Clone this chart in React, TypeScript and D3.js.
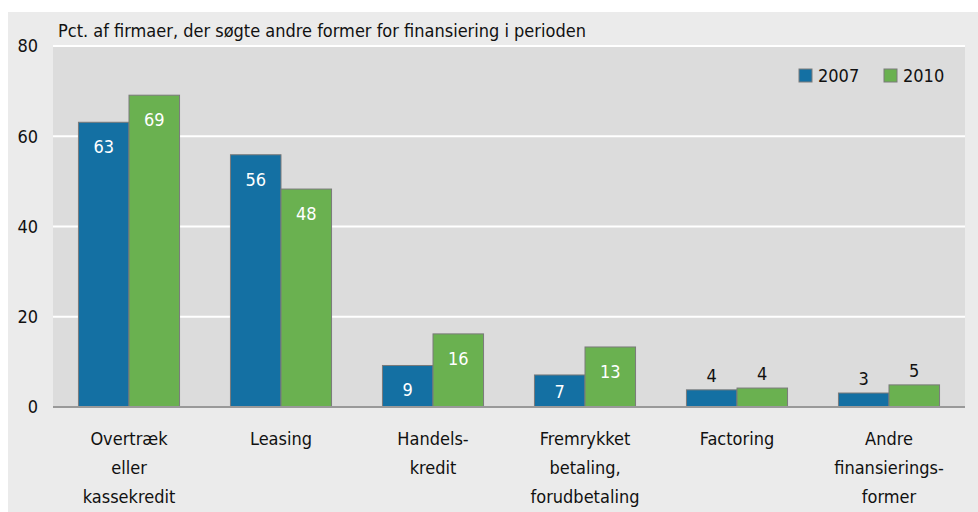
import { useEffect, useRef } from "react";
import * as d3 from "d3";

// chart data
const categories = [
  ["Overtræk", "eller", "kassekredit"],
  ["Leasing"],
  ["Handels-", "kredit"],
  ["Fremrykket", "betaling,", "forudbetaling"],
  ["Factoring"],
  ["Andre", "finansierings-", "former"],
];
const series = ["2007", "2010"];
const values2007 = [63.1, 55.9, 9.2, 7.1, 3.8, 3.1];
const values2010 = [69.1, 48.3, 16.2, 13.3, 4.2, 4.9];
const labels2007 = [63, 56, 9, 7, 4, 3];
const labels2010 = [69, 48, 16, 13, 4, 5];
const yTicks = [0, 20, 40, 60, 80];
const title = "Pct. af firmaer, der søgte andre former for finansiering i perioden";

const colors = ["#1470a3", "#6ab150"];
const FONT = "'Liberation Sans Narrow', 'DejaVu Sans Condensed', 'Open Sans', sans-serif";

export default function App() {
  const ref = useRef<SVGSVGElement>(null);

  useEffect(() => {
    const svg = d3.select(ref.current);
    svg.selectAll("*").remove();

    const left = 53, right = 965, top = 46, bottom = 407;

    // outer panel
    svg.append("rect").attr("x", 8).attr("y", 12).attr("width", 970).attr("height", 500).attr("fill", "#ebebeb");
    // plot area
    svg.append("rect").attr("x", left).attr("y", top).attr("width", right - left).attr("height", bottom - top).attr("fill", "#dcdcdc");

    const x0 = d3.scaleBand().domain(d3.range(categories.length).map(String)).range([left, right]).paddingInner(0.335).paddingOuter(0.1675);
    const x1 = d3.scaleBand().domain(series).range([0, x0.bandwidth()]);
    const y = d3.scaleLinear().domain([0, 80]).range([bottom, top]);

    // gridlines
    svg.append("g").selectAll("line").data(yTicks.filter((t) => t > 0)).join("line")
      .attr("x1", left).attr("x2", right)
      .attr("y1", (d) => y(d)).attr("y2", (d) => y(d))
      .attr("stroke", "#fff").attr("stroke-width", 2);

    // y labels
    svg.append("g").selectAll("text").data(yTicks).join("text")
      .attr("x", 38).attr("y", (d) => y(d)).attr("dy", "0.35em")
      .attr("text-anchor", "end").attr("font-family", FONT).attr("font-size", 18).attr("fill", "#111")
      .text((d) => d);

    // title
    svg.append("text").attr("x", 58).attr("y", 37).attr("font-family", FONT).attr("font-size", 18).attr("fill", "#111").text(title);

    const data = categories.map((_, i) => [
      { s: series[0], v: values2007[i], l: labels2007[i] },
      { s: series[1], v: values2010[i], l: labels2010[i] },
    ]);

    const groups = svg.append("g").selectAll("g").data(data).join("g")
      .attr("transform", (_, i) => `translate(${x0(String(i))},0)`);

    groups.selectAll("rect").data((d) => d).join("rect")
      .attr("x", (d) => x1(d.s)!)
      .attr("y", (d) => y(d.v))
      .attr("width", x1.bandwidth())
      .attr("height", (d) => y(0) - y(d.v))
      .attr("fill", (d, i) => colors[i])
      .attr("stroke", "#7a7a7a").attr("stroke-width", 1);

    groups.selectAll("text").data((d) => d).join("text")
      .attr("x", (d) => x1(d.s)! + x1.bandwidth() / 2)
      .attr("y", (d) => (d.v > 6 ? Math.min(y(d.v) + 31, y(0) - 9) : y(d.v) - 8))
      .attr("text-anchor", "middle").attr("font-family", FONT).attr("font-size", 18)
      .attr("fill", (d) => (d.v > 6 ? "#fff" : "#111"))
      .text((d) => d.l);

    // baseline
    svg.append("line").attr("x1", left).attr("x2", right).attr("y1", bottom).attr("y2", bottom)
      .attr("stroke", "#999").attr("stroke-width", 2);

    // category labels
    const cat = svg.append("g").selectAll("text").data(categories).join("text")
      .attr("text-anchor", "middle").attr("font-family", FONT).attr("font-size", 18).attr("fill", "#111")
      .attr("x", (_, i) => x0(String(i))! + x0.bandwidth() / 2)
      .attr("y", 445);
    cat.selectAll("tspan").data((d) => d).join("tspan")
      .attr("x", function () { return (this.parentNode as SVGTextElement).getAttribute("x"); })
      .attr("dy", (_, j) => (j === 0 ? 0 : 29))
      .text((d) => d);

    // legend
    const legend = svg.append("g").selectAll("g").data(series).join("g")
      .attr("transform", (_, i) => `translate(${799 + i * 85},69)`);
    legend.append("rect").attr("width", 13).attr("height", 13)
      .attr("fill", (_, i) => colors[i]).attr("stroke", "#7a7a7a");
    legend.append("text").attr("x", 19).attr("y", 13).attr("font-family", FONT).attr("font-size", 18).attr("fill", "#111")
      .text((d) => d);
  }, []);

  return (
    <svg ref={ref} width={978} height={512} style={{ position: "absolute", left: 0, top: 0 }} />
  );
}
